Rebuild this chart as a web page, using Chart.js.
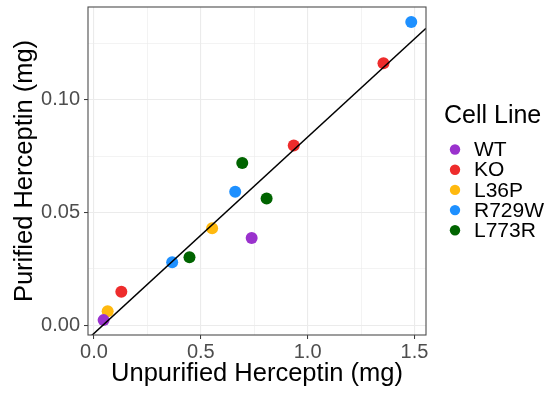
<!DOCTYPE html>
<html><head><meta charset="utf-8">
<script src="https://cdn.jsdelivr.net/npm/chart.js@4.4.1/dist/chart.umd.min.js"></script>
<style>html,body{margin:0;padding:0;background:#fff;} canvas{display:block;}</style>
</head><body>
<canvas id="c" width="552" height="393"></canvas>
<script>
// ---- data ----
const categories = ['WT', 'KO', 'L36P', 'R729W', 'L773R'];
const wtX    = [0.045, 0.738];
const wtY    = [0.0022, 0.0386];
const koX    = [0.128, 0.935, 1.355];
const koY    = [0.0148, 0.0797, 0.1161];
const l36pX  = [0.064, 0.553];
const l36pY  = [0.0061, 0.0430];
const r729wX = [0.366, 0.661, 1.485];
const r729wY = [0.0279, 0.0591, 0.1344];
const l773rX = [0.447, 0.694, 0.808];
const l773rY = [0.0301, 0.0719, 0.0561];
const fitSlope = 0.0871;
const fitIntercept = -0.0037;
const xMajorTicks = [0, 0.5, 1.0, 1.5];
const xTickLabels = ['0.0', '0.5', '1.0', '1.5'];
const xMinorTicks = [0.25, 0.75, 1.25];
const yMajorTicks = [0, 0.05, 0.10];
const yTickLabels = ['0.00', '0.05', '0.10'];
const yMinorTicks = [0.025, 0.075, 0.125];
const xRange = [-0.028, 1.554];
const yRange = [-0.0044, 0.1411];

// ---- styles ----
const seriesColors = ['#9A32CD', '#EE2C2C', '#FFB90F', '#1E90FF', '#006400'];
const FONT = "'Liberation Sans', Arial, sans-serif";

const seriesX = [wtX, koX, l36pX, r729wX, l773rX];
const seriesY = [wtY, koY, l36pY, r729wY, l773rY];

const datasets = categories.map((name, i) => ({
  type: 'scatter',
  label: name,
  data: seriesX[i].map((x, j) => ({x: x, y: seriesY[i][j]})),
  backgroundColor: seriesColors[i],
  borderWidth: 0,
  pointRadius: 6,
  pointHoverRadius: 6,
  order: 1
}));
datasets.push({
  type: 'line',
  label: 'fit',
  data: xRange.map(x => ({x: x, y: fitSlope * x + fitIntercept})),
  borderColor: '#000',
  borderWidth: 1.5,
  pointRadius: 0,
  fill: false,
  order: 0
});

function isIn(v, arr) { return arr.findIndex(a => Math.abs(a - v) < 1e-9); }

const frameLegend = {
  id: 'frameLegend',
  afterDatasetsDraw(chart) {
    const {ctx, chartArea: a} = chart;
    ctx.save();
    ctx.strokeStyle = '#4d4d4d';
    ctx.lineWidth = 1.1;
    ctx.strokeRect(a.left, a.top, a.right - a.left, a.bottom - a.top);
    ctx.restore();
  },
  afterDraw(chart) {
    const ctx = chart.ctx;
    ctx.save();
    ctx.fillStyle = '#000';
    ctx.font = '25px ' + FONT;
    ctx.textBaseline = 'alphabetic';
    ctx.textAlign = 'left';
    ctx.fillText('Cell Line', 444, 123);
    ctx.font = '21px ' + FONT;
    ctx.textBaseline = 'middle';
    categories.forEach((name, i) => {
      const y = 149.5 + i * 20.2;
      ctx.beginPath();
      ctx.fillStyle = seriesColors[i];
      ctx.arc(455, y, 5.2, 0, Math.PI * 2);
      ctx.fill();
      ctx.fillStyle = '#000';
      ctx.fillText(name, 474, y + 1);
    });
    ctx.restore();
  }
};

new Chart(document.getElementById('c'), {
  type: 'scatter',
  data: {datasets: datasets},
  plugins: [frameLegend],
  options: {
    responsive: false,
    animation: false,
    events: [],
    layout: {padding: {left: 0, right: 126, top: 7, bottom: 0}},
    plugins: {legend: {display: false}, tooltip: {enabled: false}},
    scales: {
      x: {
        type: 'linear',
        min: xRange[0], max: xRange[1],
        afterBuildTicks: s => { s.ticks = xMajorTicks.concat(xMinorTicks).sort((a, b) => a - b).map(v => ({value: v})); },
        afterFit: s => { s.height = 58; s.paddingLeft = 0; s.paddingRight = 0; },
        border: {display: false},
        grid: {
          color: '#EBEBEB',
          lineWidth: c => isIn(c.tick.value, xMajorTicks) >= 0 ? 1.1 : 0.6,
          tickColor: c => isIn(c.tick.value, xMajorTicks) >= 0 ? '#333333' : 'rgba(0,0,0,0)',
          tickLength: 4,
          tickWidth: 1
        },
        ticks: {
          autoSkip: false, maxRotation: 0, padding: 1,
          color: '#4D4D4D', font: {family: FONT, size: 20},
          callback: v => { const k = isIn(v, xMajorTicks); return k >= 0 ? xTickLabels[k] : ''; }
        },
        title: {display: true, text: 'Unpurified Herceptin (mg)', color: '#000', font: {family: FONT, size: 25.5}, padding: {top: 0, bottom: 4}}
      },
      y: {
        type: 'linear',
        min: yRange[0], max: yRange[1],
        afterBuildTicks: s => { s.ticks = yMajorTicks.concat(yMinorTicks).sort((a, b) => a - b).map(v => ({value: v})); },
        afterFit: s => { s.width = 88; s.paddingTop = 0; s.paddingBottom = 0; },
        border: {display: false},
        grid: {
          color: '#EBEBEB',
          lineWidth: c => isIn(c.tick.value, yMajorTicks) >= 0 ? 1.1 : 0.6,
          tickColor: c => isIn(c.tick.value, yMajorTicks) >= 0 ? '#333333' : 'rgba(0,0,0,0)',
          tickLength: 4,
          tickWidth: 1
        },
        ticks: {
          autoSkip: false, padding: 4,
          color: '#4D4D4D', font: {family: FONT, size: 20},
          callback: v => { const k = isIn(v, yMajorTicks); return k >= 0 ? yTickLabels[k] : ''; }
        },
        title: {display: true, text: 'Purified Herceptin (mg)', color: '#000', font: {family: FONT, size: 25.5}, padding: {top: 10, bottom: 0}}
      }
    }
  }
});
</script>
</body></html>
